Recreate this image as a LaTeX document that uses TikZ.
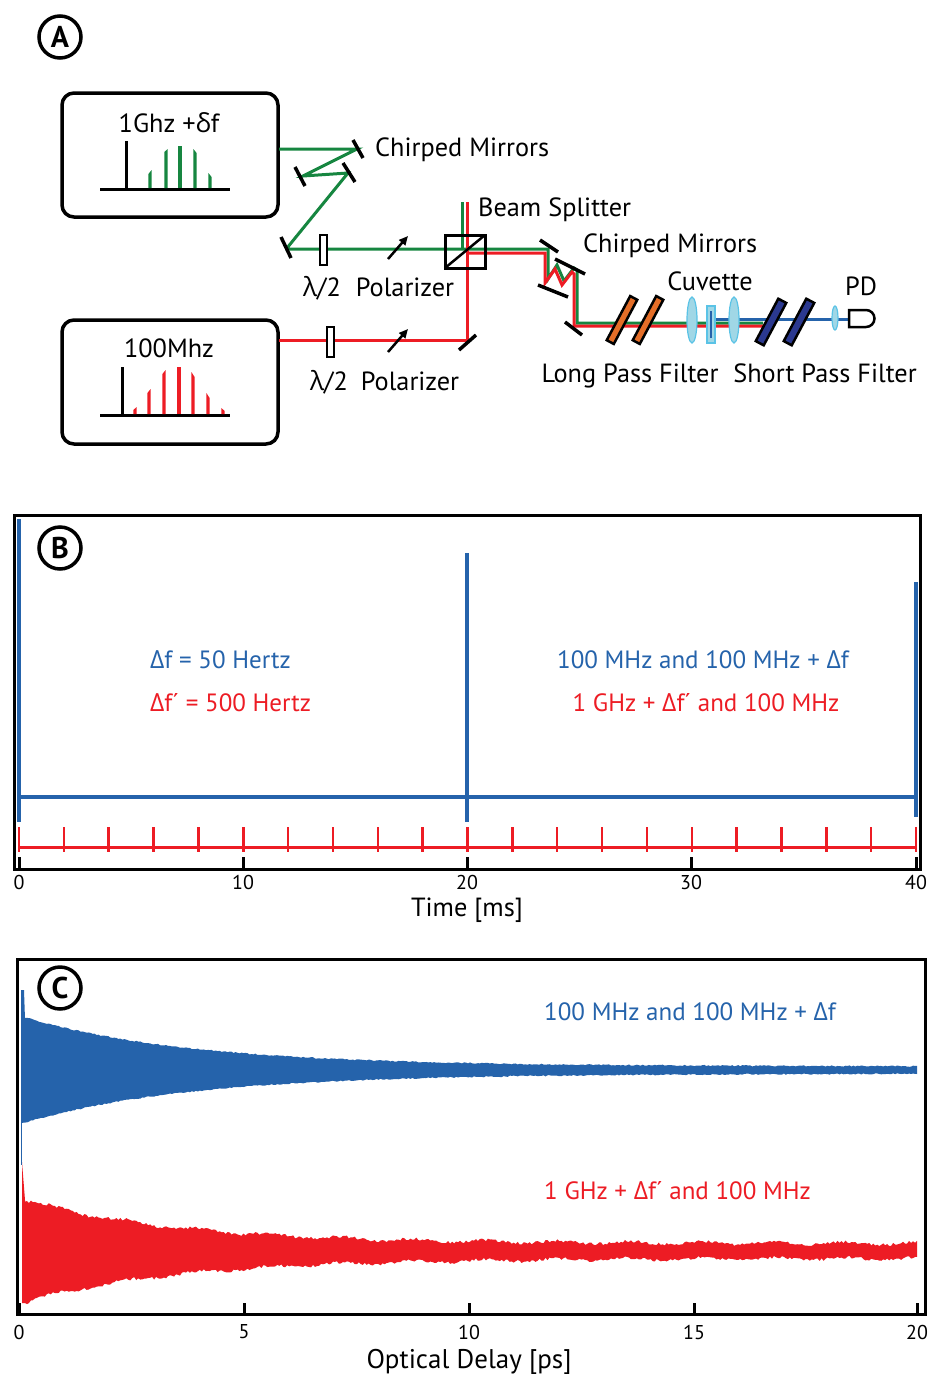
\documentclass[tikz,border=0pt]{standalone}
\usepackage{fontspec}
\setmainfont{PT Sans}
\newfontfamily\gk{Open Sans}
\usetikzlibrary{arrows.meta,calc}
\definecolor{myblue}{RGB}{37,99,171}
\definecolor{myred}{RGB}{237,28,36}
\definecolor{mygreen}{RGB}{22,134,64}
\definecolor{myorange}{RGB}{228,110,40}
\definecolor{mydblue}{RGB}{43,57,144}
\definecolor{lensfill}{RGB}{160,215,230}
\definecolor{lensdraw}{RGB}{90,195,230}
\newcommand{\gD}{{\gk Δ}}
\newcommand{\gd}{{\gk δ}}
\newcommand{\gl}{{\gk λ}}
\tikzset{
  beam/.style={line width=3pt},
  mirror/.style={line width=3.5pt, black},
  frame/.style={line width=3pt, black},
  lbl/.style={font=\fontsize{25}{30}\selectfont, anchor=base, inner sep=0pt},
  albl/.style={font=\fontsize{26.3}{30}\selectfont, anchor=base, inner sep=0pt},
  ticklbl/.style={font=\fontsize{20}{22}\selectfont, inner sep=0pt},
  circlbl/.style={circle, draw, line width=3.5pt, minimum size=42pt, inner sep=0pt, font=\fontsize{30}{30}\selectfont\bfseries},
  laserbox/.style={draw, line width=3.5pt, rounded corners=12pt},
  lens/.style={fill=lensfill, draw=lensdraw, line width=1.2pt},
  lpf/.style={fill=myorange, draw=black, line width=2.5pt},
  spf/.style={fill=mydblue, draw=black, line width=2.5pt},
  polarizer/.style={line width=2.5pt,-{Triangle[length=9pt,width=8pt]}},
}
\begin{document}
\begin{tikzpicture}[x=1pt,y=-1pt,
  declare function={hb(\x)=3+49*exp(-(\x-25)/165); hr(\x)=6+44*exp(-(\x-25)/150);}]
\useasboundingbox (0,0) rectangle (929,1374);
\fill[white] (0,0) rectangle (929,1374);

% ================= Panel A =================
\node[circlbl] (cA) at (60,37) {A};

% laser boxes
\draw[laserbox] (62,93) rectangle (278,217);
\node[albl] (t1g) at (169,132) {1Ghz +\gd f};
\draw[line width=3pt] (100,189) -- (230,189);
\draw[line width=3pt] (126,189) -- (126,141);
\foreach \xx/\yl/\yr in {150/174/170,166/152/149,180/146/146,195/149/153,210/173/177}
  \fill[mygreen] (\xx-1.6,188) -- (\xx-1.6,\yl) -- (\xx+1.6,\yr) -- (\xx+1.6,188) -- cycle;

\draw[laserbox] (62,320) rectangle (278,444);
\node[albl] (t100) at (169,357) {100Mhz};
\draw[line width=3pt] (100,415) -- (230,415);
\draw[line width=3pt] (122,415) -- (122,367);
\foreach \xx/\yl/\yr in {135/410/407,149/393/389,164/374/370,179/367/367,193/372/377,208/393/398,223/408/411}
  \fill[myred] (\xx-1.6,414) -- (\xx-1.6,\yl) -- (\xx+1.6,\yr) -- (\xx+1.6,414) -- cycle;

% green beam
\draw[mygreen,beam] (279,149) -- (357,149) -- (303,176) -- (348,173) -- (287,248) -- (287,249) -- (548,249)
  -- (548,279) -- (557,265) -- (564,281) -- (574,268) -- (577,270) -- (577,323) -- (763,323);
\draw[mygreen,beam] (462,249) -- (462,202);
% red beam
\draw[myred,beam] (279,340) -- (467,340) -- (467,202);
\draw[myred,beam] (467,253) -- (545,253) -- (545,283) -- (555,269) -- (562,285) -- (572,272) -- (574,274) -- (574,326) -- (763,326);
% blue beam
\draw[myblue,beam] (712,319) -- (852,319);

% chirped mirrors 1
\draw[mirror] (353,140) -- (363,158);
\draw[mirror] (295,167) -- (305,186);
\draw[mirror] (343,163) -- (355,182);
\draw[mirror] (281,237) -- (291,258);
% red mirror
\draw[mirror] (459,350) -- (476,335);
% chirped mirrors 2
\draw[mirror] (540,240) -- (558,252);
\draw[mirror] (555,259) -- (585,274);
\draw[mirror] (538,285) -- (568,297);
\draw[mirror] (565,322) -- (582,335);

% half-wave plates
\draw[fill=white,line width=2.5pt] (320,235) rectangle (327,265);
\draw[fill=white,line width=2.5pt] (327,327) rectangle (334,357);
% polarizers
\draw[polarizer] (388,259) -- (408,236);
\draw[polarizer] (388,352) -- (408,329);

% beam splitter
\draw[line width=3pt] (445,235) rectangle (485,268);
\draw[line width=2.5pt] (445,268) -- (485,235);

% long pass filters
\draw[lpf,shift={(622,320)},rotate=-28] (-4,-25) rectangle (4,25);
\draw[lpf,shift={(648,320)},rotate=-28] (-4,-25) rectangle (4,25);
% cuvette
\draw[lens] (692,320) ellipse [x radius=5, y radius=23];
\draw[fill=lensfill,draw=lensdraw,line width=1.5pt] (707,306) rectangle (715,343);
\draw[myblue,line width=2.5pt] (711,311) -- (711,338);
\draw[lens] (734,320) ellipse [x radius=5, y radius=23];
% short pass filters
\draw[spf,shift={(771,322)},rotate=-28] (-4.5,-24) rectangle (4.5,24);
\draw[spf,shift={(799,322)},rotate=-28] (-4.5,-24) rectangle (4.5,24);
% small lens
\draw[lens] (835,318) ellipse [x radius=3, y radius=12];
% photodiode
\draw[fill=white,line width=2.5pt] (849,310) -- (866,310) arc[start angle=-90,end angle=90,radius=8.5] -- (849,327) -- cycle;

% labels A
\node[albl,anchor=base west] (lcm1) at (375,156) {Chirped Mirrors};
\node[albl,anchor=base west] (lbs) at (478,216) {Beam Splitter};
\node[albl,anchor=base west] (lcm2) at (583,252) {Chirped Mirrors};
\node[albl] (lcuv) at (710,290) {Cuvette};
\node[albl] (lpd) at (861,295) {PD};
\node[albl] (lhw1) at (322,296) {\gl/2};
\node[albl] (lpol1) at (405,296) {Polarizer};
\node[albl] (lhw2) at (329,390) {\gl/2};
\node[albl] (lpol2) at (410,390) {Polarizer};
\node[albl] (llpf) at (630,382) {Long Pass Filter};
\node[albl] (lspf) at (825,382) {Short Pass Filter};

% ================= Panel B =================
\draw[myblue,line width=3.5pt] (19,519) -- (19,822);
\draw[myblue,line width=3.5pt] (467,553) -- (467,822);
\draw[myblue,line width=3.5pt] (916,582) -- (916,817);
\draw[myblue,line width=3.5pt] (19,797) -- (916,797);
\draw[myred,line width=3pt] (19,847) -- (917,847);
\foreach \i in {0,...,20}
  \draw[myred,line width=2.5pt] ({19+\i*44.85},827) -- ({19+\i*44.85},852);
\draw[frame] (14,515) rectangle (920,869);
\foreach \xx/\t [count=\k] in {19/0,243/10,467/20,691/30,916/40} {
  \draw[frame] (\xx,869) -- (\xx,857);
  \node[ticklbl] (bt\k) at (\xx,882) {\t};
}
\node[albl] (btime) at (467,916) {Time [ms]};
\node[circlbl] (cB) at (60,548) {B};
\node[lbl,anchor=base west,text=myblue] (bdf) at (150,668) {\gD f = 50 Hertz};
\node[lbl,anchor=base west,text=myred] (bdf2) at (150,711) {\gD f´ = 500 Hertz};
\node[lbl,text=myblue] (bblue) at (703,668) {100 MHz and 100 MHz + \gD f};
\node[lbl,text=myred] (bred) at (706,711) {1 GHz + \gD f´ and 100 MHz};

% ================= Panel C =================
\pgfmathsetseed{7}
\fill[myblue] (21,990) -- (24,990) -- (25,1019)
  -- plot[domain=25:917,samples=450] (\x,{1070-hb(\x)-1.3*rnd})
  -- plot[domain=917:25,samples=450] (\x,{1070+hb(\x)+1.3*rnd})
  -- (21,1123) -- cycle;
\draw[myblue,line width=1pt] (21,1020) -- (21,1165);
\fill[myred] (22,1162) -- (25,1200)
  -- plot[domain=25:917,samples=450] (\x,{1251-hr(\x)-3*rnd+1.5*sin(5*\x)})
  -- plot[domain=917:25,samples=450] (\x,{1251+hr(\x)+3*rnd+1.5*sin(5*\x)})
  -- (22,1303) -- cycle;
\draw[frame] (17,959) rectangle (925,1314);
\foreach \xx/\t [count=\k] in {19/0,244/5,469/10,694/15,917/20} {
  \draw[frame] (\xx,1314) -- (\xx,1303);
  \node[ticklbl] (ct\k) at (\xx,1332) {\t};
}
\node[font=\fontsize{27}{30}\selectfont, anchor=base, inner sep=0pt] (cdelay) at (469,1368) {Optical Delay [ps]};
\node[circlbl] (cC) at (60,988) {C};
\node[lbl,anchor=base west,text=myblue] (cblue) at (544,1020) {100 MHz and 100 MHz + \gD f};
\node[lbl,anchor=base west,text=myred] (cred) at (544,1199) {1 GHz + \gD f´ and 100 MHz};
\end{tikzpicture}
\end{document}
